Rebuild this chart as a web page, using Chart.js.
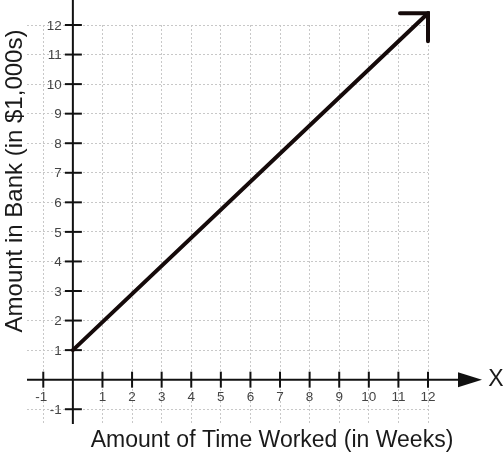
<!DOCTYPE html>
<html>
<head>
<meta charset="utf-8">
<script src="https://cdn.jsdelivr.net/npm/chart.js@4"></script>
<style>
html,body{margin:0;padding:0;background:#fff;}
#wrap{width:504px;height:454px;position:relative;}
</style>
</head>
<body>
<div id="wrap"><canvas id="c" width="504" height="454"></canvas></div>
<script>
// Data
const timeWeeks = [0, 12];
const bankThousands = [1, 12.4];
const xTickLabels = [-1, 1, 2, 3, 4, 5, 6, 7, 8, 9, 10, 11, 12];
const yTickLabels = [-1, 1, 2, 3, 4, 5, 6, 7, 8, 9, 10, 11, 12];
const xTitle = 'Amount of Time Worked (in Weeks)';
const yTitle = 'Amount in Bank (in $1,000s)';
const xAxisName = 'X';

const FONT = 'Arial, "Liberation Sans", sans-serif';

const axesPlugin = {
  id: 'axesPlugin',
  beforeDatasetsDraw(chart) {
    const ctx = chart.ctx, xs = chart.scales.x, ys = chart.scales.y;
    const x0 = xs.getPixelForValue(0), y0 = ys.getPixelForValue(0);
    const ca = chart.chartArea;
    ctx.save();
    ctx.strokeStyle = '#111';
    ctx.lineWidth = 2;
    ctx.beginPath();
    ctx.moveTo(x0, 0);
    ctx.lineTo(x0, ca.bottom);
    ctx.stroke();
    ctx.beginPath();
    ctx.moveTo(ca.left, y0);
    ctx.lineTo(chart.width - 30, y0);
    ctx.stroke();
    ctx.fillStyle = '#111';
    ctx.beginPath();
    ctx.moveTo(chart.width - 22, y0);
    ctx.lineTo(chart.width - 46, y0 - 7.5);
    ctx.lineTo(chart.width - 46, y0 + 7.5);
    ctx.closePath();
    ctx.fill();
    xTickLabels.forEach(v => {
      const px = xs.getPixelForValue(v);
      ctx.beginPath();
      ctx.moveTo(px, y0 - 8);
      ctx.lineTo(px, y0 + 8);
      ctx.stroke();
    });
    yTickLabels.forEach(v => {
      const py = ys.getPixelForValue(v);
      ctx.beginPath();
      ctx.moveTo(x0 - 8, py);
      ctx.lineTo(x0 + 9, py);
      ctx.stroke();
    });
    ctx.restore();
  },
  afterDatasetsDraw(chart) {
    const ctx = chart.ctx, xs = chart.scales.x, ys = chart.scales.y;
    const n = timeWeeks.length - 1;
    const tx = xs.getPixelForValue(timeWeeks[n]);
    const ty = ys.getPixelForValue(bankThousands[n]);
    ctx.save();
    ctx.strokeStyle = '#150a0a';
    ctx.lineWidth = 4;
    ctx.lineCap = 'round';
    ctx.lineJoin = 'miter';
    ctx.beginPath();
    ctx.moveTo(tx - 28, ty);
    ctx.lineTo(tx, ty);
    ctx.lineTo(tx, ty + 28);
    ctx.stroke();
    ctx.restore();
  },
  afterDraw(chart) {
    const ctx = chart.ctx, xs = chart.scales.x, ys = chart.scales.y;
    const x0 = xs.getPixelForValue(0), y0 = ys.getPixelForValue(0);
    ctx.save();
    ctx.fillStyle = '#444';
    ctx.font = '13.5px ' + FONT;
    ctx.textAlign = 'center';
    ctx.textBaseline = 'middle';
    xTickLabels.forEach(v => {
      ctx.fillText(String(v), xs.getPixelForValue(v) - (v < 0 ? 2 : 0), y0 + 18);
    });
    ctx.textAlign = 'right';
    yTickLabels.forEach(v => {
      ctx.fillText(String(v), x0 - 11, ys.getPixelForValue(v) + 1);
    });
    ctx.fillStyle = '#1a1a1a';
    ctx.font = '23px ' + FONT;
    ctx.textAlign = 'center';
    ctx.textBaseline = 'middle';
    ctx.fillText(xTitle, 272, 441);
    ctx.save();
    ctx.translate(15, 181);
    ctx.rotate(-Math.PI / 2);
    ctx.font = '24px ' + FONT;
    ctx.fillText(yTitle, 0, 0);
    ctx.restore();
    ctx.font = '23px ' + FONT;
    ctx.fillText(xAxisName, chart.width - 8, y0);
    ctx.restore();
  }
};

new Chart(document.getElementById('c'), {
  type: 'line',
  data: {
    datasets: [{
      data: timeWeeks.map((x, i) => ({ x: x, y: bankThousands[i] })),
      borderColor: '#150a0a',
      borderWidth: 4,
      pointRadius: 0,
      tension: 0,
      clip: false,
      borderCapStyle: 'round'
    }]
  },
  options: {
    responsive: false,
    animation: false,
    layout: { padding: { left: 27, right: 76, top: 25, bottom: 30 } },
    plugins: { legend: { display: false }, tooltip: { enabled: false } },
    scales: {
      x: {
        type: 'linear', min: -1.55, max: 12,
        ticks: { display: false, stepSize: 1, includeBounds: false },
        grid: { color: '#c8c8c8', lineWidth: 1, drawTicks: false },
        border: { display: false, dash: [2, 2] }
      },
      y: {
        type: 'linear', min: -1.5, max: 12,
        ticks: { display: false, stepSize: 1, includeBounds: false },
        grid: { color: '#c8c8c8', lineWidth: 1, drawTicks: false },
        border: { display: false, dash: [2, 2] }
      }
    }
  },
  plugins: [axesPlugin]
});
</script>
</body>
</html>
